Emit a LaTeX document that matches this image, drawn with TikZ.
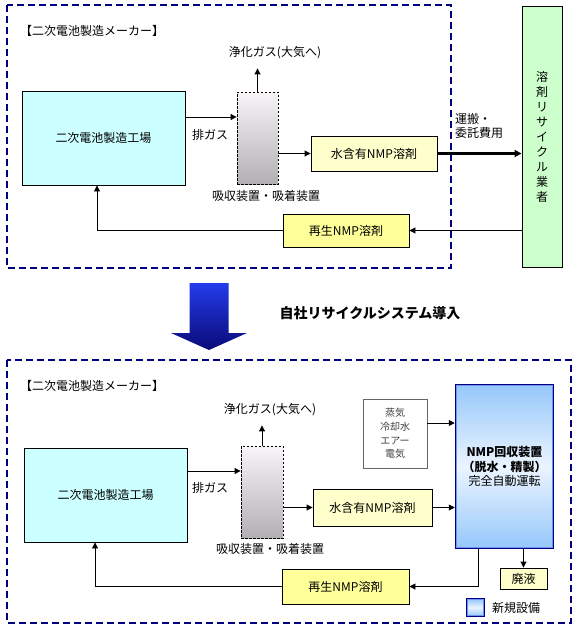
\documentclass[tikz,border=0pt]{standalone}
\usepackage{fontspec}
\setmainfont{Noto Sans CJK JP}
\usetikzlibrary{arrows.meta}
\definecolor{navy}{RGB}{0,0,128}
\definecolor{factorycyan}{RGB}{204,255,255}
\definecolor{paleyellow}{RGB}{255,255,204}
\definecolor{regenyellow}{RGB}{255,255,153}
\definecolor{palegreen}{RGB}{204,255,204}
\definecolor{unitblue}{RGB}{150,200,250}
\definecolor{unitwhite}{RGB}{235,244,255}
\definecolor{unitedge}{RGB}{110,150,240}
\definecolor{absorbtop}{RGB}{248,244,248}
\definecolor{absorbbottom}{RGB}{178,176,178}
\definecolor{arrowtop}{RGB}{35,60,235}
\definecolor{arrowbottom}{RGB}{10,10,120}
\begin{document}
\begin{tikzpicture}[x=1pt,y=-1pt,
	font=\fontsize{12}{14}\selectfont,
	every node/.style={inner sep=0pt},
	boxsize/.style 2 args={minimum width=#1pt,minimum height=#2pt},
	box/.style={draw,line width=0.9pt},
	absorber/.style={draw,line width=0.8pt,dash pattern=on 2.5pt off 1.5pt,top color=absorbtop,bottom color=absorbbottom},
	newunit/.style={draw=navy,line width=2.5pt,top color=unitblue,bottom color=unitblue,middle color=unitwhite},
	maker/.style={draw=navy,line width=2pt,dash pattern=on 7pt off 4pt},
	arr/.style={line width=0.9pt,-{Triangle[length=6pt,width=6pt]}},
	thickarr/.style={line width=2.2pt,-{Triangle[length=7pt,width=7pt]}}]
		\def\makerlabel{【二次電池製造メーカー】}
		\useasboundingbox (0,0) rectangle (580,630);
		\draw[maker] (7,5) rectangle (451,268);
		\node[anchor=west] (makerA) at (20,31) {\makerlabel};
		\node[box,fill=factorycyan,boxsize={163}{94}] (factoryA) at (103.5,138) {二次電池製造工場};
		\node[absorber,boxsize={41}{92}] (absorberA) at (257.5,138) {};
		\node (purifiedA) at (275,53) {浄化ガス(大気へ)};
		\node (exhaustA) at (210,135) {排ガス};
		\node (absorbtextA) at (266,196) {吸収装置・吸着装置};
		\node[box,fill=paleyellow,boxsize={126}{35}] (wetA) at (374,153.5) {水含有NMP溶剤};
		\node[box,fill=regenyellow,boxsize={126}{33}] (regenA) at (346,230.5) {再生NMP溶剤};
		\node[box,fill=palegreen,boxsize={40}{261},align=center,font=\fontsize{12}{15}\selectfont] (recyclerA) at (542,136.5) {溶\\剤\\リ\\サ\\イ\\ク\\ル\\業\\者};
		\node[anchor=north west,align=left] (costA) at (455,113) {運搬・\\委託費用};
		\draw[arr] (factoryA.east |- 0,117) -- (absorberA.west |- 0,117);
		\draw[arr,shorten >=9pt] (absorberA.north) -- (absorberA.north |- purifiedA.south);
		\draw[arr] (absorberA.east |- wetA.west) -- (wetA.west);
		\draw[thickarr] (wetA.east) -- (recyclerA.west |- wetA.east);
		\draw[arr] (recyclerA.west |- regenA.east) -- (regenA.east);
		\draw[arr] (regenA.west) -| ([xshift=-6.5pt]factoryA.south);
		\shade[top color=arrowtop,bottom color=arrowbottom] (189.5,283) -- (228.5,283) -- (228.5,333) -- (247,333) -- (209,350) -- (171,333) -- (189.5,333) -- cycle;
		\node[font=\bfseries\fontsize{14}{16}\selectfont] (introduce) at (370,313) {自社リサイクルシステム導入};
		\draw[maker] (7,360) rectangle (571,623);
		\node[anchor=west] (makerB) at (20,386) {\makerlabel};
		\node[box,fill=factorycyan,boxsize={163}{94}] (factoryB) at (105.5,495) {二次電池製造工場};
		\node[absorber,boxsize={42}{92}] (absorberB) at (262,492) {};
		\node (purifiedB) at (270,410) {浄化ガス(大気へ)};
		\node (exhaustB) at (210,488) {排ガス};
		\node (absorbtextB) at (270,549) {吸収装置・吸着装置};
		\node[box,fill=paleyellow,boxsize={119}{37}] (wetB) at (372.5,507.5) {水含有NMP溶剤};
		\node[box,draw=black!60,boxsize={64}{69},align=center,text=black!75,font=\fontsize{10}{13.7}\selectfont] (utilityB) at (395,433.5) {蒸気\\冷却水\\エアー\\電気};
		\node[newunit,boxsize={97}{163},align=center,font=\fontsize{12}{14.5}\selectfont] (nmpB) at (504.5,466.5) {\textbf{NMP回収装置}\\\textbf{（脱水・精製）}\\完全自動運転};
		\draw[unitedge,line width=0.7pt] ([shift={(2,2)}]nmpB.north west) rectangle ([shift={(-2,-2)}]nmpB.south east);
		\node[box,fill=paleyellow,boxsize={47}{21}] (wasteB) at (523.5,578.5) {廃液};
		\node[box,fill=regenyellow,boxsize={127}{35}] (regenB) at (345.5,586.5) {再生NMP溶剤};
		\node[newunit,line width=2pt,boxsize={17}{17}] (legendB) at (475.5,607.5) {};
		\draw[unitedge,line width=0.6pt] ([shift={(1.6,1.6)}]legendB.north west) rectangle ([shift={(-1.6,-1.6)}]legendB.south east);
		\node[anchor=west] (legendtextB) at (492,608) {新規設備};
		\draw[arr] (factoryB.east |- 0,471) -- (absorberB.west |- 0,471);
		\draw[arr,shorten >=9pt] (absorberB.north) -- (absorberB.north |- purifiedB.south);
		\draw[arr] (absorberB.east |- wetB.west) -- (wetB.west);
		\draw[arr] (wetB.east) -- (nmpB.west |- wetB.east);
		\draw[arr] (utilityB.east |- 0,423) -- (nmpB.west |- 0,423);
		\draw[arr] (nmpB.south -| 478,0) |- (regenB.east);
		\draw[arr] (wasteB.north |- nmpB.south) -- (wasteB.north);
		\draw[arr] (regenB.west) -| ([xshift=-10.5pt]factoryB.south);
	\end{tikzpicture}
\end{document}
